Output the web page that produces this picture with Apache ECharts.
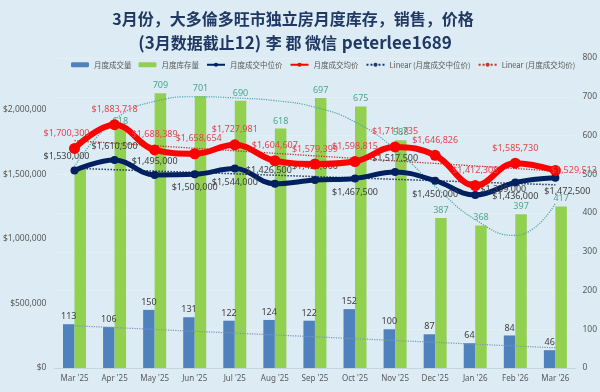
<!DOCTYPE html>
<html>
<head>
<meta charset="utf-8">
<script src="https://cdn.jsdelivr.net/npm/echarts@6/dist/echarts.min.js"></script>
<style>
html,body{margin:0;padding:0;background:#dcebf4;}
#c{width:600px;height:392px;}
</style>
</head>
<body>
<div id="c"></div>
<script>
const months = ["Mar '25","Apr '25","May '25","Jun '25","Jul '25","Aug '25","Sep '25","Oct '25","Nov '25","Dec '25","Jan '26","Feb '26","Mar '26"];
const salesVolume = [113,106,150,131,122,124,122,152,100,87,64,84,46];
const inventory = [515,618,709,701,690,618,697,675,588,387,368,397,417];
const medianPrice = [1530000,1610500,1495000,1500000,1544000,1426500,1455000,1467500,1517500,1450000,1339000,1436000,1472500];
const avgPrice = [1700300,1883718,1688389,1658654,1727981,1604607,1579399,1598815,1711735,1646826,1412308,1585730,1529513];
const medianLinearEnds = [1546000,1418000];
const avgLinearEnds = [1760000,1525000];
const salesLinearEnds = [109,52];
const inventoryTrend = [520,640,688,700,697,690,673,635,565,469,383,342,425];
const leftTicks = [0,500000,1000000,1500000,2000000];
const rightTicks = [0,100,200,300,400,500,600,700,800];

const FONT = "'Noto Sans','Noto Sans CJK SC',sans-serif";
const CJK = "'Noto Sans CJK SC',sans-serif";
const NARROW = "'Liberation Sans Narrow','Noto Sans CJK SC',sans-serif";
const money = v => '$' + Math.round(v).toLocaleString('en-US');

const medPos = ['top','top','top','bottom','bottom','top','top','bottom','top','bottom','right','bottom','bottom'];
const medOff = [[-8,0],[0,0],[0,0],[0,0],[0,0],[-6,0],[0,0],[0,0],[0,0],[0,0],[-4,-6],[0,0],[12,0]];
const avgPos = ['top','top','top','top','top','top','top','top','top','top','top','top','right'];
const avgOff = [[-8,0],[0,0],[0,0],[4,0],[0,0],[0,0],[0,0],[0,0],[0,0],[0,0],[0,0],[0,0],[-15,0]];

const ends = (arr) => [[months[0], arr[0]], [months[months.length-1], arr[1]]];

const chart = echarts.init(document.getElementById('c'), null, {renderer:'canvas'});
chart.setOption({
  backgroundColor:'#dcebf4',
  animation:false,
  textStyle:{fontFamily:FONT},
  title:[{
    text:'3月份，大多倫多旺市独立房月度库存，销售，价格',
    left:288, top:6, textAlign:'center',
    textStyle:{fontFamily:CJK, fontSize:16, fontWeight:'bold', color:'#1f3864'}
  },{
    text:'{a|(3}{c|月数据截止}{a|12)} {c|李 郡 微信} {a|peterlee1689}',
    left:290, top:29, textAlign:'center',
    textStyle:{
      rich:{
        a:{fontFamily:NARROW, fontSize:17, fontWeight:'bold', color:'#1f3864'},
        c:{fontFamily:CJK, fontSize:16, fontWeight:'bold', color:'#1f3864'}
      }
    }
  }],
  legend:{
    left:66, top:56, itemWidth:18, itemHeight:5, itemGap:7,
    textStyle:{fontSize:7.5, color:'#595959', fontFamily:CJK},
    data:['月度成交量','月度库存量','月度成交中位价','月度成交均价','Linear (月度成交中位价)','Linear (月度成交均价)']
  },
  grid:{left:53, right:24, top:58, bottom:24, containLabel:false},
  xAxis:{
    type:'category', data:months,
    axisTick:{show:false},
    axisLine:{lineStyle:{color:'#c5d5de'}},
    axisLabel:{fontSize:8, color:'#595959', margin:7, interval:0}
  },
  yAxis:[
    {type:'value', min:0, max:2400000, interval:500000,
     axisLabel:{fontSize:8.5, color:'#595959', margin:8, formatter:v => leftTicks.includes(v) ? money(v) : ''},
     splitLine:{show:false}, axisLine:{show:false}, axisTick:{show:false}},
    {type:'value', min:0, max:800, interval:100, position:'right',
     axisLabel:{fontSize:8.5, color:'#595959', margin:7, formatter:v => rightTicks.includes(v) ? String(v) : ''},
     splitLine:{show:true, lineStyle:{color:'#e4eff5', width:1}}, axisLine:{show:false}, axisTick:{show:false}}
  ],
  series:[
    {name:'月度成交量', type:'bar', yAxisIndex:1, data:salesVolume, barWidth:11.5, barGap:'0%',
     itemStyle:{color:'#4f81bd'},
     label:{show:true, position:'top', fontSize:9, color:'#404040', distance:3}},
    {name:'月度库存量', type:'bar', yAxisIndex:1, data:inventory, barWidth:11.5, barGap:'0%',
     itemStyle:{color:'#92d050'},
     label:{show:true, position:'top', fontSize:9, color:'#4aa88a', distance:3,
            formatter:p => p.dataIndex === 0 ? '' : String(p.value)}},
    {name:'销售趋势', type:'line', yAxisIndex:1, data:ends(salesLinearEnds), symbol:'none',
     lineStyle:{color:'#7d96b8', width:1.2, type:'dotted'}, z:3},
    {name:'库存趋势', type:'line', yAxisIndex:1, data:inventoryTrend, symbol:'none', smooth:0.5,
     lineStyle:{color:'#4ba3b0', width:1.2, type:'dotted'}, z:3},
    {name:'Linear (月度成交中位价)', type:'line', yAxisIndex:0, data:ends(medianLinearEnds), symbol:'none',
     lineStyle:{color:'#1f3864', width:1.5, type:'dotted'}, itemStyle:{color:'#1f3864'}, z:3},
    {name:'Linear (月度成交均价)', type:'line', yAxisIndex:0, data:ends(avgLinearEnds), symbol:'none',
     lineStyle:{color:'#c0392b', width:1.3, type:'dotted'}, itemStyle:{color:'#c0392b'}, z:3},
    {name:'月度成交中位价', type:'line', yAxisIndex:0, smooth:0.4,
     data:medianPrice.map((v,i)=>({value:v, label:{position:medPos[i], offset:medOff[i]}})),
     symbol:'circle', symbolSize:8,
     lineStyle:{color:'#002060', width:5}, itemStyle:{color:'#002060'},
     label:{show:true, fontSize:9, color:'#404040', formatter:p=>money(p.value)}, z:4},
    {name:'月度成交均价', type:'line', yAxisIndex:0, smooth:0.4,
     data:avgPrice.map((v,i)=>({value:v, label:{position:avgPos[i], offset:avgOff[i]}})),
     symbol:'circle', symbolSize:11,
     lineStyle:{color:'#ff0000', width:6}, itemStyle:{color:'#ff0000'},
     label:{show:true, fontSize:9, color:'#e0474c', formatter:p=>money(p.value)}, z:5}
  ]
});
</script>
</body>
</html>
